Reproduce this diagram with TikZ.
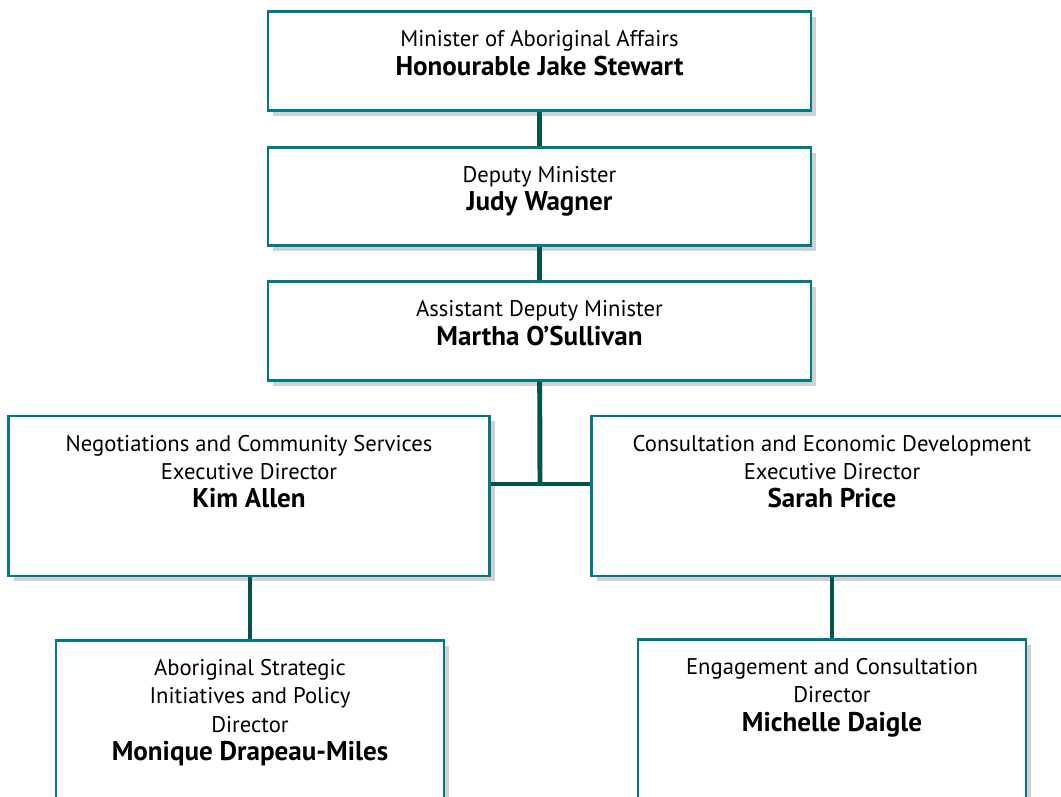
\documentclass[tikz,border=0pt]{standalone}
\usepackage{fontspec}
\setmainfont{PT Sans}
\usetikzlibrary{positioning,shadows}

\definecolor{boxline}{RGB}{0,122,135}
\definecolor{linkline}{RGB}{0,84,74}
\newcommand{\person}[1]{{\fontsize{15.4}{16.1}\selectfont\bfseries #1}}

\begin{document}
\begin{tikzpicture}[x=0.02cm,y=-0.02cm,
            box/.style={draw=boxline,line width=1.6pt,fill=white,rectangle,
                drop shadow={shadow xshift=3pt,shadow yshift=-3pt,opacity=0.3,fill=black!60}},
            top/.style={box,minimum width=10.86cm,minimum height=1.97cm},
            exec/.style={box,minimum width=9.62cm,minimum height=3.2cm},
            dir/.style={box,minimum width=7.76cm,minimum height=3.6cm,anchor=north},
            txt/.style={anchor=north,align=center,font=\fontsize{12.9}{16.1}\selectfont,inner sep=0pt},
            link/.style={draw=linkline,line width=2.8pt},
            ]
    \clip (0,0) rectangle (1061,796);

    % boxes
    \node[top] (minister) at (539.5,61) {};
    \node[top] (deputy) at (539.5,196.5) {};
    \node[top] (assistant) at (539.5,331) {};
    \node[exec] (negot) at (249,496) {};
    \node[exec] (consult) at (832,496) {};
    \node[dir] (strategic) at (250,639) {};
    \node[dir] (engage) at (832,638) {};

    % connectors
    \coordinate (fork) at (540,484);
    \draw[link] (minister) -- (deputy);
    \draw[link] (deputy) -- (assistant);
    \draw[link] (assistant) -- (fork);
    \draw[link] (negot.east |- fork) -- (consult.west |- fork);
    \draw[link] (negot.south -| strategic) -- (strategic.north);
    \draw[link] (consult.south -| engage) -- (engage.north);

    % texts
    \node[txt,below=0.4cm of minister.north] (minister-t) {Minister of Aboriginal Affairs\\ \person{Honourable Jake Stewart}};
    \node[txt,below=0.4cm of deputy.north] (deputy-t) {Deputy Minister\\ \person{Judy Wagner}};
    \node[txt,below=0.4cm of assistant.north] (assistant-t) {Assistant Deputy Minister\\ \person{Martha O’Sullivan}};
    \node[txt,below=0.4cm of negot.north] (negot-t) {Negotiations and Community Services\\ Executive Director\\ \person{Kim Allen}};
    \node[txt,below=0.4cm of consult.north] (consult-t) {Consultation and Economic Development\\ Executive Director\\ \person{Sarah Price}};
    \node[txt,below=0.4cm of strategic.north] (strategic-t) {Aboriginal Strategic\\ Initiatives and Policy\\ Director\\ \person{Monique Drapeau-Miles}};
    \node[txt,below=0.4cm of engage.north] (engage-t) {Engagement and Consultation\\ Director\\ \person{Michelle Daigle}};
\end{tikzpicture}
\end{document}
